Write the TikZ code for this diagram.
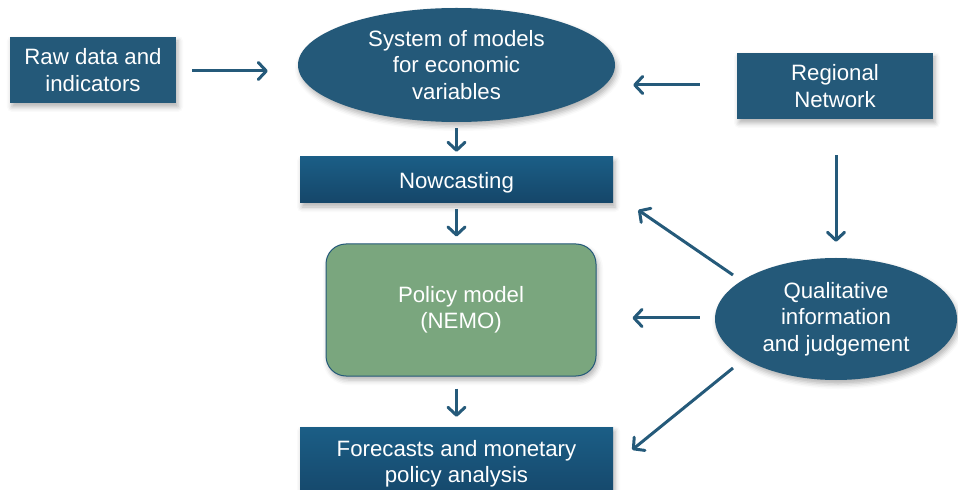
\documentclass[tikz,border=0pt]{standalone}
\usepackage{fontspec}
\setmainfont{Liberation Sans}
\usetikzlibrary{arrows.meta,shapes.geometric,shadows.blur,calc}
\definecolor{dblue}{RGB}{36,89,121}
\definecolor{gtop}{RGB}{27,94,134}
\definecolor{gbot}{RGB}{21,70,105}
\definecolor{pgreen}{RGB}{122,166,126}
\definecolor{arrblue}{RGB}{37,90,122}
\begin{document}
\begin{tikzpicture}[x=1bp,y=-1bp,
  every node/.style={font=\fontsize{22.3}{26.5}\selectfont, text=white, align=center, inner sep=0pt,
    execute at begin node={\rule{0pt}{22bp}}},
  shd/.style={blur shadow={shadow xshift=2bp, shadow yshift=-4bp, shadow blur radius=5bp, shadow opacity=30}},
  flatbox/.style={rectangle, fill=dblue, shd},
  gradbox/.style={rectangle, top color=gtop, bottom color=gbot, shd},
  oval/.style={ellipse, fill=dblue, shd},
  arr/.style={draw=arrblue, line width=3bp, -{Straight Barb[length=8bp,width=17bp,round]}}]
\useasboundingbox (0,0) rectangle (958,490);
\clip (0,0) rectangle (958,490);
\node[flatbox, minimum width=166bp, minimum height=66bp] (raw) at (93,70) {Raw data and\\indicators};
\node[oval, minimum width=317bp, minimum height=114bp] (sys) at (456.5,65) {System of models\\for economic\\variables};
\node[flatbox, minimum width=196bp, minimum height=66bp] (reg) at (835,86) {Regional\\Network};
\node[gradbox, minimum width=313bp, minimum height=46bp] (now) at (456.5,180) {Nowcasting};
\node[rectangle, rounded corners=20bp, fill=pgreen, draw=dblue, line width=1bp, minimum width=270bp, minimum height=132bp, shd] (pol) at (461,310) {Policy model\\(NEMO)};
\node[gradbox, minimum width=313bp, minimum height=74bp] (for) at (456.5,464) {Forecasts and monetary\\policy analysis};
\node[oval, minimum width=242bp, minimum height=122bp] (qual) at (836,319) {Qualitative\\information\\and judgement};
\draw[arr] ($(raw.east)+(16,1)$) -- ($(raw.east -| sys.west)+(-30,1)$);
\draw[arr] ($(reg.west)+(-37,-1)$) -- ($(reg.west -| sys.east)+(18,-1)$);
\draw[arr] ($(sys.south)+(0,6)$) -- ($(now.north)+(0,-5)$);
\draw[arr] ($(now.south)+(0,6)$) -- ($(now.south |- pol.north)+(0,-7)$);
\draw[arr] ($(for.north |- pol.south)+(0,12)$) -- ($(for.north)+(0,-10)$);
\draw[arr] ($(reg.south)+(1,36)$) -- ($(qual.north)+(0,-16)$);
\draw[arr] ($(qual.center)+(-103,-44)$) -- ($(now.east)+(25,30)$);
\draw[arr] ($(qual.west)+(-15,-1)$) -- ($(qual.west -| pol.east)+(36,-1)$);
\draw[arr] ($(qual.center)+(-103,49)$) -- ($(for.north east)+(19,23)$);
\end{tikzpicture}
\end{document}
